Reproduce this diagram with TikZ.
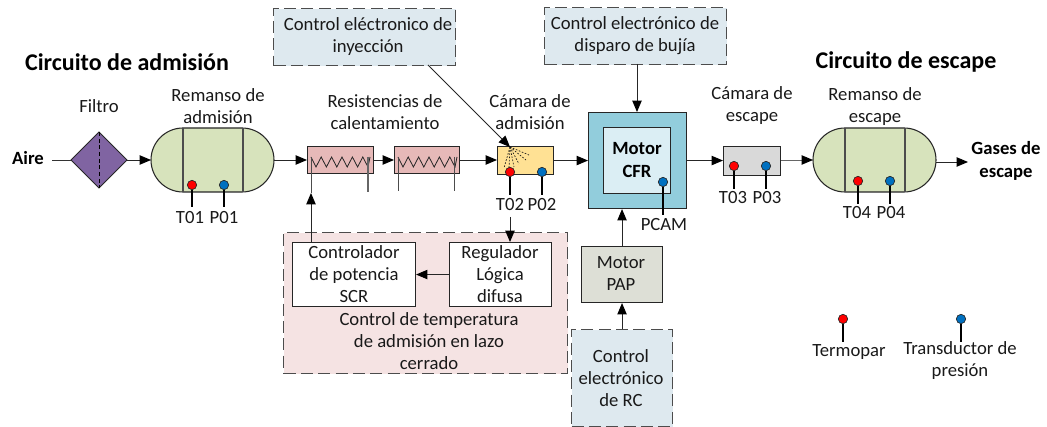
\documentclass[tikz,border=0pt]{standalone}
\usepackage{fontspec}
\setmainfont{Carlito}
\usetikzlibrary{arrows.meta,calc}
\definecolor{tankc}{HTML}{D7E3BC}
\definecolor{filterc}{HTML}{8064A2}
\definecolor{resc}{HTML}{E6B9B8}
\definecolor{camc}{HTML}{FFE194}
\definecolor{motc}{HTML}{92CDDC}
\definecolor{motin}{HTML}{DBEEF4}
\definecolor{grayc}{HTML}{D9D9D9}
\definecolor{papc}{HTML}{DDDFD6}
\definecolor{pinkc}{HTML}{F5E3E3}
\definecolor{ctrlc}{HTML}{DEE9EF}
\definecolor{sred}{HTML}{FF0000}
\definecolor{sblue}{HTML}{0070C0}
\tikzset{
  x=0.75pt,y=-0.75pt,
  every node/.style={font=\fontsize{14}{16.5}\selectfont,align=center,inner sep=0pt,text=black!90},
  arr/.style={draw=black!85,line width=0.7pt,-{Triangle[length=8.5pt,width=7pt,fill=black,color=black]}},
  ln/.style={draw=black!80,line width=0.7pt},
  boxa/.style={draw=black!85,line width=0.8pt,anchor=north west},
  dbox/.style={draw=black!70,line width=0.8pt,dash pattern=on 9pt off 4pt,anchor=north west},
  titl/.style={font=\fontsize{18}{22}\selectfont\bfseries,text=black},
  bld/.style={font=\fontsize{14}{17}\selectfont\bfseries,text=black},
  stem/.style={draw=black,line width=1.2pt},
  sdot/.style={circle,draw=black!85,line width=0.5pt,minimum size=7pt},
  zig/.style={draw=black!85,line width=0.6pt},
}
\newcommand{\bx}[6]{\node[boxa,fill=#6,minimum width=#4*0.75pt,minimum height=#5*0.75pt] (#1) at (#2,#3) {};}
\newcommand{\sensor}[5]{% name x y color endy
  \coordinate (#1e) at (#2,#5);
  \node[sdot,fill=#4] (#1) at (#2,#3) {};
  \draw[stem] (#1.south) -- (#1e);
}
\newcommand{\tank}[2]{% name, left x
  \begin{scope}[shift={(#2,128)}]
  \draw[fill=tankc,draw=black!85,line width=0.8pt] (32,0) -- (91,0) arc[start angle=90,end angle=-90,radius=24pt] -- (32,64) arc[start angle=270,end angle=90,radius=24pt] -- cycle;
  \draw[draw=black!70,line width=0.8pt] (32,0) -- (32,64);
  \draw[draw=black!70,line width=0.8pt] (92,0) -- (92,64);
  \coordinate (#1l) at (0,32);
  \coordinate (#1r) at (123,32);
  \end{scope}
}
\newcommand{\zigzag}[1]{% left x of zigzag
  \draw[zig] (#1,157) -- ++(5,10) -- ++(5.2,-10) -- ++(5.2,10) -- ++(5.2,-10) -- ++(5.2,10) -- ++(5.2,-10) -- ++(5.2,10) -- ++(5.2,-10) -- ++(5.2,10) -- ++(5.2,-10) -- ++(5.2,10) -- ++(2,-10);
}
\begin{document}
\begin{tikzpicture}
\useasboundingbox (0,0) rectangle (1047,427);
% titles
\node[titl] (t1) at (127,62) {Circuito de admisión};
\node[titl] (t2) at (906,62) {Circuito de escape};
% labels
\node (lf) at (99,106) {Filtro};
\node (lr1) at (218,106) {Remanso de\\admisión};
\node (lres) at (385,112) {Resistencias de\\calentamiento};
\node (lca) at (530,112) {Cámara de\\admisión};
\node (lce) at (752,106) {Cámara de\\escape};
\node (lr2) at (875,107) {Remanso de\\escape};
\node[bld] (aire) at (28,158) {Aire};
\node[bld] (gas) at (1006,161) {Gases de\\escape};
% filter
\draw[fill=filterc,draw=black!85,line width=0.7pt] (71,160) coordinate (fl) -- (99,132) coordinate (ft) -- (127,160) coordinate (fr) -- (99,188) coordinate (fb) -- cycle;
\draw[draw=black,line width=0.7pt,densely dashed] (ft) -- (fb);
\coordinate (aires) at (52,160);
\draw[ln] (aires) -- (fl);
% tanks
\tank{ta}{151}
\tank{tb}{813}
\draw[arr] (fr) -- (tal);
% heaters
\bx{ra}{307}{146}{66}{27}{resc}
\bx{rb}{394}{146}{65}{27}{resc}
\zigzag{311}
\zigzag{398}
\coordinate (ras) at (368,192); \coordinate (raa) at (368,157);
\coordinate (rbl) at (398,191); \coordinate (rbla) at (398,157);
\coordinate (rbr) at (454,191); \coordinate (rbra) at (454,157);
\draw[draw=black!60,line width=0.8pt] (raa) -- (ras);
\draw[draw=black!70,line width=0.7pt] (rbla) -- (rbl);
\draw[draw=black!70,line width=0.7pt] (rbra) -- (rbr);
% chambers
\bx{ca}{497}{146}{56}{28}{camc}
\bx{ce}{723}{146}{57}{29}{grayc}
% spray
\coordinate (sp) at (510,147);
\foreach \e in {(529,155),(526,160),(519,164),(514,167),(509,168),(504,168)}
  \draw[draw=black!90,line width=0.5pt,dash pattern=on 1.2pt off 1.2pt] (sp) -- \e;
% motor
\bx{mo}{588}{112}{98}{96}{motc}
\bx{mi}{603}{127}{67}{66}{motin}
\node[font=\fontsize{14}{17.5}\selectfont\bfseries,text=black] (mt) at (637,160) {Motor\\CFR};
% control boxes
\node[dbox,fill=pinkc,minimum width=284*0.75pt,minimum height=141*0.75pt] (pk) at (283,232) {};
\bx{cp}{292}{242}{123}{64}{white}
\bx{rg}{449}{242}{102}{64}{white}
\node (cpt) at (354,274) {Controlador\\de potencia\\SCR};
\node (rgt) at (500,274) {Regulador\\Lógica\\difusa};
\node (pkt) at (429,341) {Control de temperatura\\de admisión en lazo\\cerrado};
\bx{pap}{581}{246}{81}{56}{papc}
\node (papt) at (621,274) {Motor\\PAP};
\node[dbox,fill=ctrlc,minimum width=101*0.75pt,minimum height=97*0.75pt] (rc) at (571,329) {};
\node (rct) at (621,378) {Control\\electrónico\\de RC};
\node[dbox,fill=ctrlc,minimum width=182*0.75pt,minimum height=57*0.75pt] (ci) at (273,8) {};
\node (cit) at (368,37) {Control eléctronico de\\inyección};
\node[dbox,fill=ctrlc,minimum width=182*0.75pt,minimum height=57*0.75pt] (cd) at (544,7) {};
\node (cdt) at (635,36) {Control electrónico de\\disparo de bujía};
% sensors
\sensor{t01}{192}{185}{sred}{207}
\sensor{p01}{224}{185}{sblue}{207}
\sensor{t02}{510}{172}{sred}{195}
\sensor{p02}{542}{172}{sblue}{195}
\sensor{t03}{734}{166}{sred}{189}
\sensor{p03}{766}{166}{sblue}{189}
\sensor{t04}{858}{181}{sred}{204}
\sensor{p04}{890}{181}{sblue}{204}
\sensor{pc}{663}{182}{sblue}{215}
\sensor{lt}{843}{319}{sred}{342}
\sensor{lp}{961}{319}{sblue}{342}
\node (lt01) at (190,218) {T01};
\node (lp01) at (224,218) {P01};
\node (lt02) at (510,205) {T02};
\node (lp02) at (542,205) {P02};
\node (lt03) at (733,198) {T03};
\node (lp03) at (767,198) {P03};
\node (lt04) at (857,213) {T04};
\node (lp04) at (891,213) {P04};
\node (lpc) at (664,225) {PCAM};
\node (lgt) at (849,352) {Termopar};
\node (lgp) at (960,361) {Transductor de\\presión};
% arrows
\draw[arr] (tar) -- (ra.west |- tar);
\draw[arr] (ra.east |- tar) -- (rb.west |- tar);
\draw[arr] (rb.east |- tar) -- (ca.west |- tar);
\draw[arr] (ca.east |- mo.west) -- (mo.west);
\draw[arr] (mo.east) -- (ce.west |- mo.east);
\draw[arr,draw=black!60] (ce.east |- tbl) -- (tbl);
\coordinate (ge) at (968,162);
\draw[arr] (tbr |- ge) -- (ge);
% feedback
\coordinate (fd) at (311,242);
\coordinate (fm) at (311,193);
\coordinate (fu) at (311,157);
\draw[draw=black!70,line width=0.7pt] (fm) -- (fu);
\draw[arr] (fd) -- (fm);
\coordinate (ts) at (510,217);
\draw[arr] (ts) -- (ts |- rg.north);
\draw[arr] (rg.west |- cp.east) -- (cp.east);
\draw[arr] (pap.north) -- (pap.north |- mo.south);
\draw[arr] (rc.north -| pap.north) -- (pap.south);
\coordinate (cis) at (428,65);
\draw[arr] (cis) -- (sp);
\coordinate (cds) at (637,64);
\draw[arr] (cds) -- (cds |- mo.north);
\end{tikzpicture}
\end{document}
